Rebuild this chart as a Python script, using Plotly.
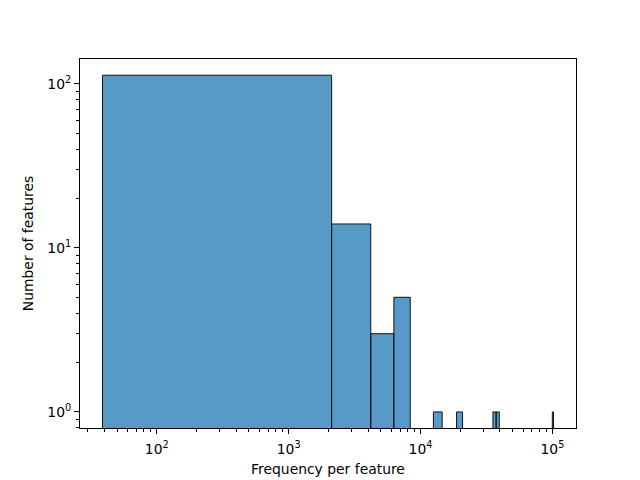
import plotly.graph_objects as go

# Non-empty histogram bins (linear-width bins shown on a log x axis)
bin_lo = [38.8, 2119, 4199, 6279, 12519, 18759, 35399, 37479, 99879]
bin_hi = [2119, 4199, 6279, 8359, 14599, 20839, 37479, 39559, 101959]
counts = [113, 14, 3, 5, 1, 1, 1, 1, 1]

x_ticks = [100, 1000, 10000, 100000]
x_ticktext = ["10<sup>2</sup>", "10<sup>3</sup>", "10<sup>4</sup>", "10<sup>5</sup>"]
y_ticks = [1, 10, 100]
y_ticktext = ["10<sup>0</sup>", "10<sup>1</sup>", "10<sup>2</sup>"]

fill = "rgba(31,119,180,0.75)"
fig = go.Figure()
for lo, hi, c in zip(bin_lo, bin_hi, counts):
    fig.add_trace(go.Scatter(
        x=[lo, lo, hi, hi, lo], y=[0.5, c, c, 0.5, 0.5],
        mode="lines", fill="toself", fillcolor=fill,
        line=dict(color="black", width=0.9), hoverinfo="skip", showlegend=False))

x_minor = [m * 10**e for e in range(1, 6) for m in range(2, 10)]
y_minor = [m * 10**e for e in range(-1, 2) for m in range(2, 10)]

font = dict(family="DejaVu Sans", size=13.9, color="black")
# page body has an 8px margin, so the figure is 632x472 with shifted margins
fig.update_layout(
    width=632, height=472, plot_bgcolor="white", paper_bgcolor="white",
    margin=dict(l=72, r=64, t=51, b=52), font=font, showlegend=False,
    xaxis=dict(type="log", range=[1.418, 5.179], tickmode="array",
               tickvals=x_ticks, ticktext=x_ticktext, ticks="outside",
               ticklen=5, tickwidth=1, tickcolor="black", showgrid=False,
               zeroline=False, showline=True, linecolor="black", linewidth=1,
               mirror=True, ticklabelstandoff=3, automargin=False,
               minor=dict(tickmode="array", tickvals=x_minor, ticks="outside",
                          ticklen=3, tickwidth=0.8, tickcolor="black", showgrid=False),
               title=dict(text="Frequency per feature", font=font, standoff=8)),
    yaxis=dict(type="log", range=[-0.098, 2.152], tickmode="array",
               tickvals=y_ticks, ticktext=y_ticktext, ticks="outside",
               ticklen=5, tickwidth=1, tickcolor="black", showgrid=False,
               zeroline=False, showline=True, linecolor="black", linewidth=1,
               mirror=True, automargin=False,
               minor=dict(tickmode="array", tickvals=y_minor, ticks="outside",
                          ticklen=3, tickwidth=0.8, tickcolor="black", showgrid=False),
               title=dict(text="Number of features", font=font, standoff=10)),
)
fig.write_html("out.html")
